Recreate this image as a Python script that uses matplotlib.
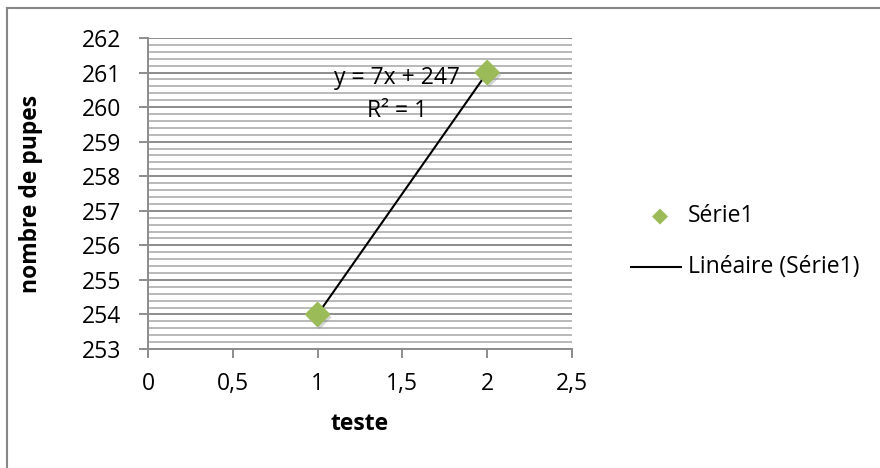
import matplotlib
matplotlib.use("Agg")
import matplotlib.pyplot as plt
from matplotlib.lines import Line2D
from matplotlib.ticker import MultipleLocator, FuncFormatter
import matplotlib.patheffects as pe
import numpy as np

plt.rcParams["font.family"] = ["Open Sans", "DejaVu Sans"]

# data
teste = [1, 2]
pupes = [254, 261]
slope, intercept = 7, 247
x_ticks = [0, 0.5, 1, 1.5, 2, 2.5]
y_ticks = list(range(253, 263))

GREEN = "#9BBB59"
MAJOR = "#8c8c8c"
MINOR = "#b9b9b9"
FS = 16.5

fig = plt.figure(figsize=(8.8, 4.68), dpi=100)
ax = fig.add_axes([148 / 880, 1 - 349 / 468, 424 / 880, 311 / 468])

# chart border (top and left visible)
fig.add_artist(Line2D([7 / 880, 7 / 880], [0, 1 - 8 / 468], transform=fig.transFigure,
                      color="#878787", lw=1.5))
fig.add_artist(Line2D([7 / 880, 1], [1 - 8 / 468, 1 - 8 / 468], transform=fig.transFigure,
                      color="#878787", lw=1.5))

ax.set_xlim(0, 2.5)
ax.set_ylim(253, 262)
ax.set_xticks(x_ticks)
ax.set_yticks(y_ticks)
ax.yaxis.set_minor_locator(MultipleLocator(0.2))
ax.xaxis.set_major_formatter(FuncFormatter(lambda v, _: f"{v:g}".replace(".", ",")))

ax.grid(axis="y", which="major", color=MAJOR, lw=1.4)
ax.grid(axis="y", which="minor", color=MINOR, lw=1.4)
ax.set_axisbelow(True)
for s in ["top", "right"]:
    ax.spines[s].set_visible(False)
for s in ["left", "bottom"]:
    ax.spines[s].set_color(MAJOR)
    ax.spines[s].set_linewidth(1.4)
ax.tick_params(axis="both", which="major", direction="out", length=6.5, width=1.4,
               color=MAJOR, labelsize=FS, labelcolor="black")
ax.tick_params(axis="x", pad=10)
ax.tick_params(axis="y", pad=13)
ax.tick_params(axis="y", which="minor", length=0)

# trend line
xs = np.array(teste)
ax.plot(xs, slope * xs + intercept, color="black", lw=1.5, zorder=4)

# series markers with a soft shadow
ax.scatter(teste, pupes, marker="D", s=150, color=GREEN, zorder=5,
           path_effects=[pe.SimplePatchShadow(offset=(1.5, -2), shadow_rgbFace="#888888", alpha=0.35),
                         pe.Normal()])

ax.text(1.47, 260.85, "y = 7x + 247", fontsize=FS, ha="center", va="center")
ax.text(1.47, 259.9, "R² = 1", fontsize=FS, ha="center", va="center")

ax.set_xlabel("teste", fontsize=FS, fontweight="bold")
ax.set_ylabel("nombre de pupes", fontsize=FS, fontweight="bold")
ax.xaxis.set_label_coords(0.5, (349 - 412) / 311)
ax.yaxis.set_label_coords((43 - 148) / 424, 0.5)

# legend
fig.text(660 / 880, 1 - 216 / 468, "◆", color=GREEN, fontsize=15, ha="center", va="center",
         family="DejaVu Sans")
fig.text(688 / 880, 1 - 216 / 468, "Série1", fontsize=FS, va="center")
fig.add_artist(Line2D([631 / 880, 681 / 880], [1 - 267 / 468, 1 - 267 / 468],
                      transform=fig.transFigure, color="black", lw=1.5))
fig.text(688 / 880, 1 - 267 / 468, "Linéaire (Série1)", fontsize=FS, va="center")

fig.savefig("out.png", dpi=100)
